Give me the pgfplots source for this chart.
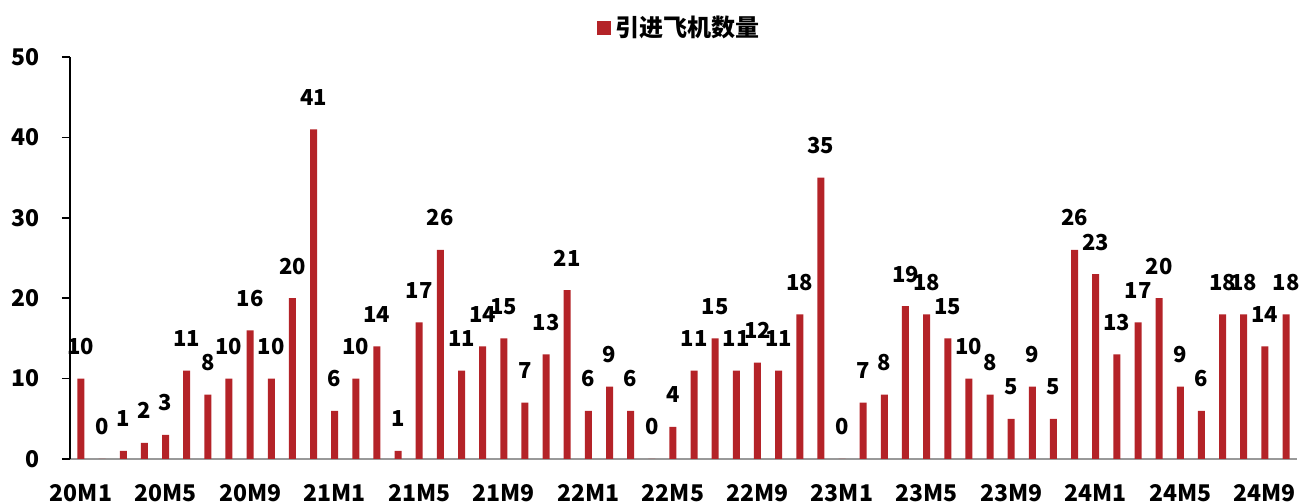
\documentclass[border=0pt]{standalone}
\usepackage{fontspec}
\setmainfont{Noto Sans CJK SC}
\usepackage{pgfplots}
\pgfplotsset{compat=1.18}
\definecolor{barred}{RGB}{180,35,40}
\pgfplotstableread{
idx val
0 10
1 0
2 1
3 2
4 3
5 11
6 8
7 10
8 16
9 10
10 20
11 41
12 6
13 10
14 14
15 1
16 17
17 26
18 11
19 14
20 15
21 7
22 13
23 21
24 6
25 9
26 6
27 0
28 4
29 11
30 15
31 11
32 12
33 11
34 18
35 35
36 0
37 7
38 8
39 19
40 18
41 15
42 10
43 8
44 5
45 9
46 5
47 26
48 23
49 13
50 17
51 20
52 9
53 6
54 18
55 18
56 14
57 18
}\planes
\begin{document}
\begin{tikzpicture}[x=1pt,y=1pt]
\path[use as bounding box] (-35,-22) rectangle (616.5,229.5);
\begin{axis}[
  at={(0,0)}, anchor=south west,
  width=613.5pt, height=201pt, scale only axis,
  xmin=-0.52, xmax=57.52, ymin=0, ymax=50,
  ybar, bar width=3.5pt,
  axis x line=bottom, axis y line=left,
  x axis line style={-, draw=black!40, line width=1pt},
  y axis line style={-, draw=black, line width=0.9pt},
  ytick={0,10,...,50},
  xtick={0,4,...,56},
  xticklabels={20M1,20M5,20M9,21M1,21M5,21M9,22M1,22M5,22M9,23M1,23M5,23M9,24M1,24M5,24M9},
  x tick style={draw=none},
  y tick style={draw=black, line width=0.9pt},
  tick align=outside, major tick length=4pt,
  /pgf/number format/assume math mode=true,
  ticklabel style={font=\bfseries\fontsize{11.5}{13}\selectfont},
  yticklabel style={xshift=-7.5pt},
  xticklabel style={yshift=-5pt},
  nodes near coords,
  nodes near coords style={font=\bfseries\fontsize{11}{13}\selectfont, anchor=base, yshift=12pt, inner sep=0pt},
  legend style={at={(rel axis cs:0.497,1.072)}, anchor=center, draw=none, fill=none,
    font=\bfseries\fontsize{12}{14}\selectfont},
  legend image code/.code={\fill[barred] (0pt,-3.6pt) rectangle (7.2pt,3.6pt);},
]
\addplot[fill=barred, draw=none] table[x=idx, y=val] {\planes};
\addlegendentry{引进飞机数量}
\end{axis}
\end{tikzpicture}
\end{document}
